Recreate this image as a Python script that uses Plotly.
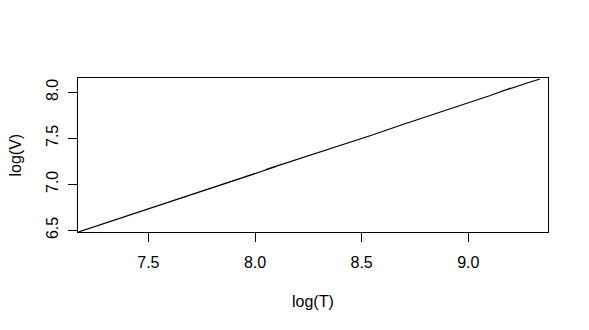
import plotly.graph_objects as go

# data (log T, log V)
log_t = [7.17, 7.35, 7.52, 7.68, 7.80, 7.95, 8.10, 8.05, 8.22, 8.40, 8.55,
         8.70, 8.85, 8.80, 8.95, 9.10, 9.20, 9.15, 9.28, 9.336]
log_v = [6.48, 6.617, 6.748, 6.872, 6.966, 7.082, 7.193, 7.160, 7.285, 7.422,
         7.536, 7.655, 7.768, 7.735, 7.848, 7.962, 8.045, 8.005, 8.103, 8.144]

x_ticks = [7.5, 8.0, 8.5, 9.0]
y_ticks = [6.5, 7.0, 7.5, 8.0]
x_label = "log(T)"
y_label = "log(V)"

font = dict(family="Liberation Sans, Arial, sans-serif", size=16, color="black")

fig = go.Figure()
fig.add_trace(go.Scatter(x=log_t, y=log_v, mode="lines",
                         line=dict(color="black", width=1.2), showlegend=False,
                         hoverinfo="skip"))

fig.update_layout(
    width=589, height=330,
    margin=dict(l=78, r=41, t=78, b=98),
    paper_bgcolor="white", plot_bgcolor="white",
    font=font,
    xaxis=dict(range=[7.17, 9.374], tickvals=x_ticks,
               ticktext=[f"{v:.1f}" for v in x_ticks],
               ticks="outside", ticklen=9, tickcolor="black", tickwidth=1,
               showgrid=False, zeroline=False, showline=True, linecolor="black",
               linewidth=1, mirror=True, ticklabelstandoff=7),
    yaxis=dict(range=[6.4815, 8.155], tickvals=y_ticks,
               ticktext=[f"{v:.1f}" for v in y_ticks],
               ticks="outside", ticklen=9, tickcolor="black", tickwidth=1,
               tickangle=-90,
               showgrid=False, zeroline=False, showline=True, linecolor="black",
               linewidth=1, mirror=True, ticklabelstandoff=4),
    annotations=[
        dict(text=x_label, x=0.5, xref="paper", y=301, yref="paper",
             showarrow=False, font=font),
        dict(text=y_label, textangle=-90, xref="paper", yref="paper",
             showarrow=False, font=font),
    ],
)
# position annotations in pixel terms via paper coords
plot_w = 589 - 78 - 41
plot_h = 330 - 78 - 98
fig.layout.annotations[0].update(x=(313 - 78) / plot_w,
                                 y=(232 - 301) / plot_h, yanchor="middle")
fig.layout.annotations[1].update(x=(14.5 - 78) / plot_w, xanchor="center",
                                 y=0.5, yanchor="middle")

fig.write_html("out.html")
